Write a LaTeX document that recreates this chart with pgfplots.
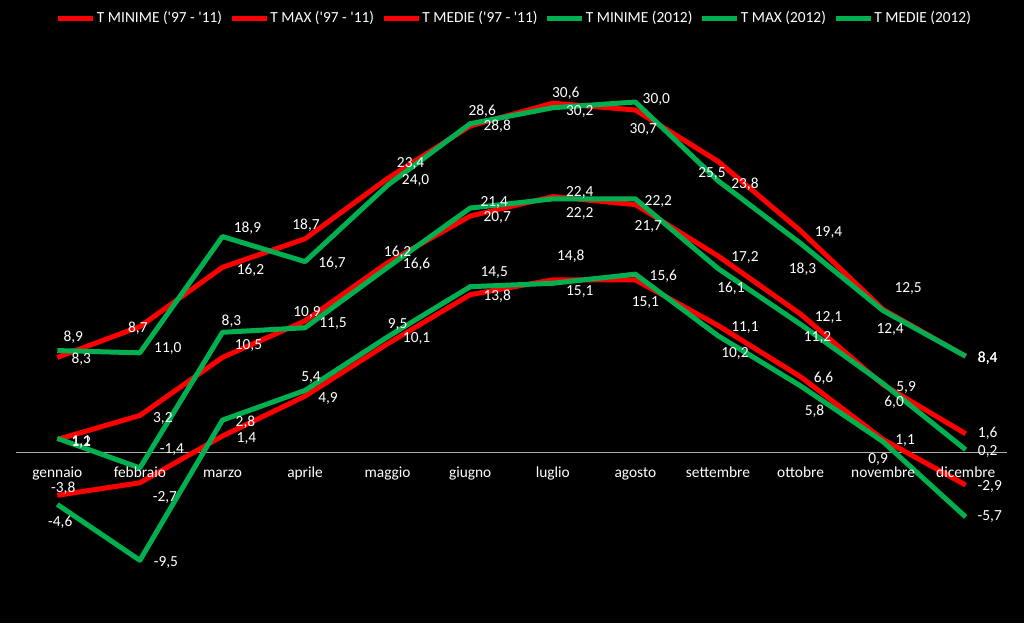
\documentclass[border=0pt]{standalone}
\usepackage{fontspec}
\setmainfont{Carlito}
\usepackage{pgfplots}
\usepackage{pgfplotstable}
\pgfplotsset{compat=1.18}
\definecolor{xred}{RGB}{255,0,0}
\definecolor{xgreen}{RGB}{0,176,80}
\newcommand{\lblfont}{\fontsize{7.7}{9}\selectfont}

\pgfplotstableread{
x v lab dx dy
0 -3.8 -3,8 6 7.3
1 -2.7 -2,7 25 -15.2
2 1.4 1,4 24 -2
3 4.9 4,9 23 -2
4 9.5 9,5 10 19.7
5 13.8 13,8 27 -1.3
6 15.1 15,1 27 -12
7 15.1 15,1 10 -23
8 11.1 11,1 27 -2.5
9 6.6 6,6 23 -1.2
10 1.1 1,1 22 -1.5
11 -2.9 -2,9 24 -1
}\rmin
\pgfplotstableread{
x v lab dx dy
0 8.3 8,3 24 -1.6
1 11.0 11,0 28 -21.4
2 16.2 16,2 28 -2.7
3 18.7 18,7 1 13.8
4 24.0 24,0 28 -1.6
5 28.6 28,6 12 15
6 30.6 30,6 13 10
7 30.0 30,0 21 11
8 25.5 25,5 -6 -12
9 19.4 19,4 28 -2
10 12.5 12,5 25 21.5
11 8.4 8,4 22 -2
}\rmax
\pgfplotstableread{
x v lab dx dy
0 1.1 1,1 24 -2.5
1 3.2 3,2 23 -2.5
2 8.3 8,3 9 36
3 11.5 11,5 28 -3
4 16.6 16,6 29 -1.2
5 20.7 20,7 27 -1
6 22.4 22,4 27 4.6
7 21.7 21,7 13 -21.4
8 17.2 17,2 27 -2
9 12.1 12,1 28 -3
10 5.9 5,9 23 -2.3
11 1.6 1,6 22 0
}\rmed
\pgfplotstableread{
x v lab dx dy
0 -4.6 -4,6 3 -17.6
1 -9.5 -9,5 26 -1.7
2 2.8 2,8 23 -2
3 5.4 5,4 6 13.4
4 10.1 10,1 29 -2
5 14.5 14,5 24 13.7
6 14.8 14,8 18 27
7 15.6 15,6 28 -2
8 10.2 10,2 17 -18
9 5.8 5,8 14 -25
10 0.9 0,9 -5 -18
11 -5.7 -5,7 24 0
}\gmin
\pgfplotstableread{
x v lab dx dy
0 8.9 8,9 16 13.5
1 8.7 8,7 -2 25
2 18.9 18,9 25 8.5
3 16.7 16,7 27 -1.4
4 23.4 23,4 23 22
5 28.8 28,8 27 -2.3
6 30.2 30,2 27 -3.3
7 30.7 30,7 8 -27
8 23.8 23,8 27 -3.3
9 18.3 18,3 2 -25.6
10 12.4 12,4 7 -18.4
11 8.4 8,4 22 -2
}\gmax
\pgfplotstableread{
x v lab dx dy
0 1.2 1,2 24 -3.7
1 -1.4 -1,4 32 18
2 10.5 10,5 26 -12.7
3 10.9 10,9 2 15.7
4 16.2 16,2 10 15.3
5 21.4 21,4 24 6
6 22.2 22,2 27 -15
7 22.2 22,2 23 -3
8 16.1 16,1 13 -19.5
9 11.2 11,2 17 -12.7
10 6.0 6,0 11 -18.4
11 0.2 0,2 22 -1.3
}\gmed

\pgfplotsset{
  ser/.style={line width=2.5pt, line join=round, mark=none},
  lbl/.style={draw=none, mark=none, forget plot, nodes near coords,
    point meta=explicit symbolic,
    visualization depends on={\thisrow{dx}\as\dx},
    visualization depends on={\thisrow{dy}\as\dy},
    nodes near coords style={anchor=center, xshift={\dx*0.5pt}, yshift={\dy*0.5pt},
      text=white, font=\lblfont, inner sep=0pt}},
}

\begin{document}
\begin{tikzpicture}
\fill[black] (-8pt,0pt) rectangle (504pt,311.5pt);
\useasboundingbox (-8pt,0pt) rectangle (504pt,311.5pt);
\begin{axis}[
  at={(0pt,0pt)}, anchor=south west,
  scale only axis, width=495.5pt, height=285pt,
  xmin=-0.5, xmax=11.5, ymin=-15, ymax=35,
  clip=false, axis on top,
  axis x line=middle, axis y line=none,
  x axis line style={draw=none},
  xtick={0,...,11},
  xticklabels={gennaio,febbraio,marzo,aprile,maggio,giugno,luglio,agosto,settembre,ottobre,novembre,dicembre},
  major tick length=0pt,
  xticklabel style={anchor=base, yshift=-12.5pt, text=white, font=\lblfont},
  legend columns=6,
  legend style={at={(0.5025,1.0614)}, anchor=center, draw=none, fill=none,
    text=white, font=\lblfont, inner sep=0pt, column sep=0pt,
    /tikz/every even column/.append style={column sep=3pt},
    nodes={inner sep=0.6pt}},
  legend image code/.code={\draw[#1, line width=2.5pt] (0pt,0pt) -- (17.5pt,0pt);},
]
\addplot[gray!65, line width=0.5pt, forget plot] coordinates {(-0.5,0) (11.5,0)};
\addplot[ser, xred] table[x=x,y=v] {\rmin};
\addlegendentry{T MINIME (\textquotesingle97 - \textquotesingle11)}
\addplot[ser, xred] table[x=x,y=v] {\rmax};
\addlegendentry{T MAX (\textquotesingle97 - \textquotesingle11)}
\addplot[ser, xred] table[x=x,y=v] {\rmed};
\addlegendentry{T MEDIE (\textquotesingle97 - \textquotesingle11)}
\addplot[ser, xgreen] table[x=x,y=v] {\gmin};
\addlegendentry{T MINIME (2012)}
\addplot[ser, xgreen] table[x=x,y=v] {\gmax};
\addlegendentry{T MAX (2012)}
\addplot[ser, xgreen] table[x=x,y=v] {\gmed};
\addlegendentry{T MEDIE (2012)}

\addplot[lbl] table[x=x,y=v,meta=lab] {\rmin};
\addplot[lbl] table[x=x,y=v,meta=lab] {\rmax};
\addplot[lbl] table[x=x,y=v,meta=lab] {\rmed};
\addplot[lbl] table[x=x,y=v,meta=lab] {\gmin};
\addplot[lbl] table[x=x,y=v,meta=lab] {\gmax};
\addplot[lbl] table[x=x,y=v,meta=lab] {\gmed};
\end{axis}
\end{tikzpicture}
\end{document}
